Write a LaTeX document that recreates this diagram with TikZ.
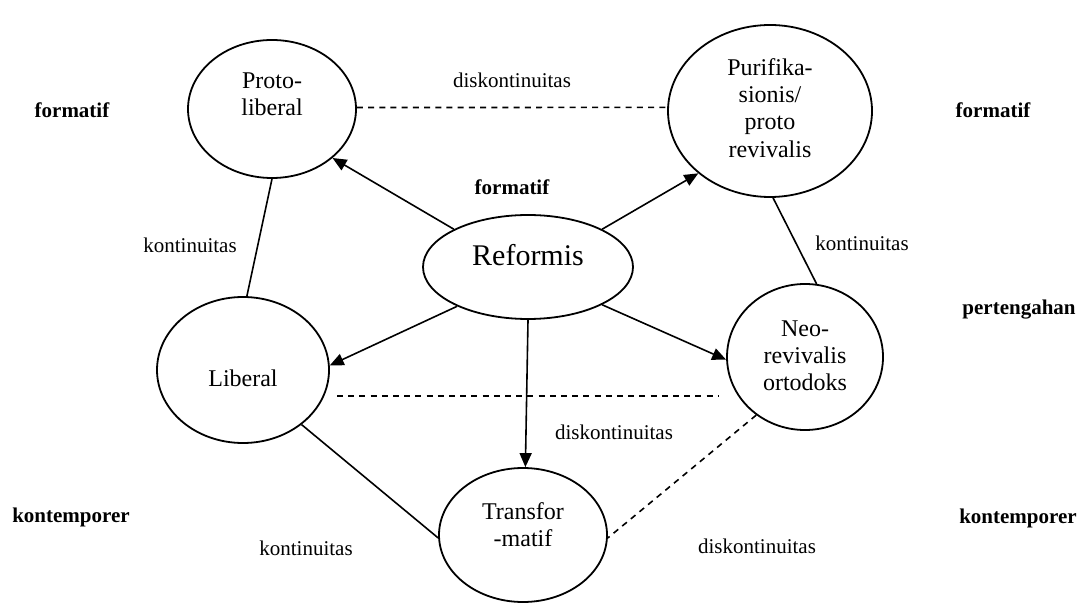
\documentclass[tikz,border=0pt]{standalone}
\usepackage{fontspec}
\setmainfont{Liberation Serif}
\usetikzlibrary{arrows.meta,shapes.geometric}
\begin{document}
\begin{tikzpicture}[x=0.5pt,y=-0.5pt,
  ell/.style={draw, ellipse, line width=0.9pt, inner sep=0pt},
  intext/.style={font=\fontsize{12}{13.6}\selectfont, align=center, inner sep=0pt},
  lab/.style={font=\fontsize{10.5}{12}\selectfont, inner sep=0pt},
  blab/.style={font=\fontsize{10.5}{12}\selectfont\bfseries, inner sep=0pt},
  conn/.style={line width=0.8pt},
  dconn/.style={line width=0.8pt, dash pattern=on 3pt off 2.6pt},
  arr/.style={line width=0.8pt, -{Triangle[length=7pt,width=6pt]}}]
\useasboundingbox (0,0) rectangle (1079,603);
% ellipses
\node[ell, minimum width=84pt, minimum height=69pt] (pl) at (272,109) {};
\node[ell, minimum width=102pt, minimum height=86pt] (pu) at (770,111) {};
\node[ell, minimum width=105pt, minimum height=52pt] (rf) at (528,267) {};
\node[ell, minimum width=78pt, minimum height=73pt] (nr) at (805,357) {};
\node[ell, minimum width=86pt, minimum height=73pt] (lb) at (243,370) {};
\node[ell, minimum width=84pt, minimum height=67pt] (tr) at (523,535) {};
% texts in ellipses
\node[intext] (plt) at (272,94) {Proto-\\liberal};
\node[intext] (put) at (770,108) {Purifika-\\sionis/\\proto\\revivalis};
\node[intext, font=\fontsize{15}{17}\selectfont] (rft) at (528,255) {Reformis};
\node[intext] (nrt) at (805,356) {Neo-\\revivalis\\ortodoks};
\node[intext] (lbt) at (243,378) {Liberal};
\node[intext] (trt) at (523,525) {Transfor\\-matif};
% side labels
\node[blab] (f1) at (72,110) {formatif};
\node[blab] (f2) at (993,110) {formatif};
\node[blab] (f3) at (512,187) {formatif};
\node[blab] (pt) at (1019,310) {pertengahan};
\node[blab] (k1) at (71,517) {kontemporer};
\node[blab] (k2) at (1018,518) {kontemporer};
% connector labels
\node[lab] (d1l) at (512,80) {diskontinuitas};
\node[lab] (k1l) at (190,245) {kontinuitas};
\node[lab] (k2l) at (862,243) {kontinuitas};
\node[lab] (d2l) at (614,432) {diskontinuitas};
\node[lab] (k3l) at (306,548) {kontinuitas};
\node[lab] (d3l) at (757,546) {diskontinuitas};
% connectors
\draw[dconn] (pl.1) -- (pu.178);
\draw[conn] (pl.south) -- (lb.87);
\draw[conn] (pu.-88) -- (nr.81);
\draw[arr] (rf.153) -- (pl.-39);
\draw[arr] (rf.27) -- (pu.-139);
\draw[arr] (rf.-151) -- (lb.3);
\draw[arr] (rf.-27) -- (nr.182);
\draw[arr] (rf.south) -- (tr.88);
\coordinate (da) at (337,396);
\coordinate (db) at (718,396);
\draw[dconn] (da) -- (db);
\draw[conn] (lb.-43) -- (tr.182);
\draw[dconn] (nr.-130) -- (tr.-2);
\end{tikzpicture}
\end{document}
